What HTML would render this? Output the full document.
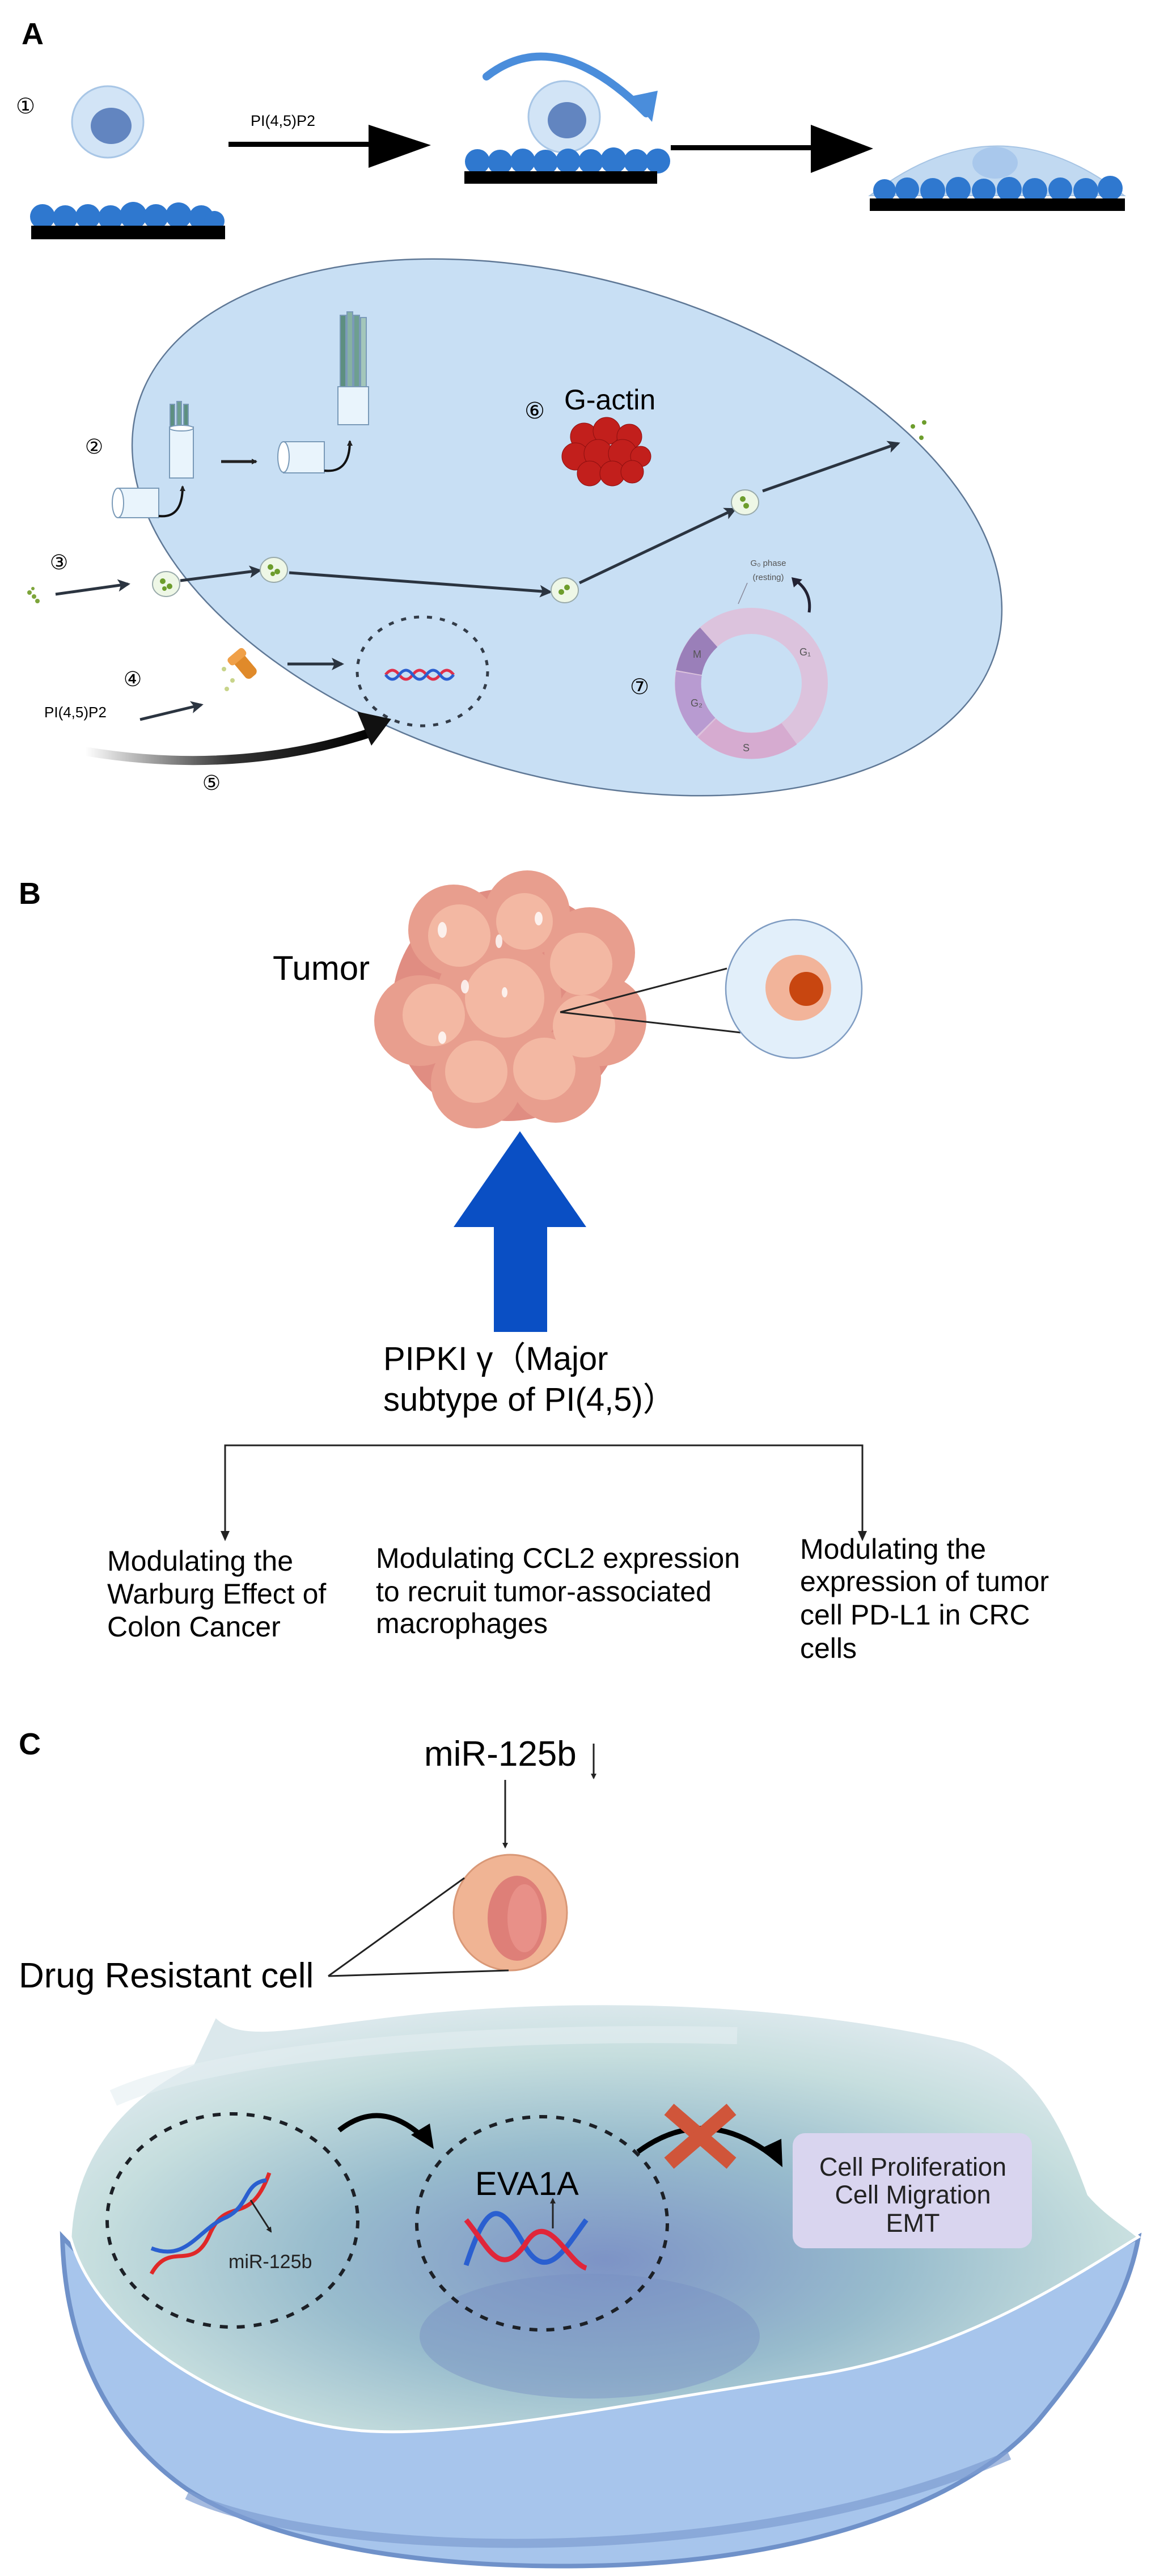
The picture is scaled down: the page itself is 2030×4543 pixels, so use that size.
<!DOCTYPE html>
<html><head><meta charset="utf-8"><style>
html,body{margin:0;padding:0;background:#fff;}
svg{display:block;}
text{font-family:"Liberation Sans","DejaVu Sans","Noto Sans CJK SC",sans-serif;}
</style></head><body>
<svg width="2030" height="4543" viewBox="0 0 2030 4543" xmlns="http://www.w3.org/2000/svg">
<defs>
<radialGradient id="cellg" cx="0.5" cy="0.6" r="0.6">
<stop offset="0" stop-color="#7d93c6"/><stop offset="0.45" stop-color="#98bccd"/><stop offset="0.8" stop-color="#c6dede"/><stop offset="1" stop-color="#dbe8ec"/>
</radialGradient>
<linearGradient id="arr5" x1="0" x2="1"><stop offset="0" stop-color="#000" stop-opacity="0"/><stop offset="0.5" stop-color="#000" stop-opacity="0.8"/><stop offset="1" stop-color="#000"/></linearGradient>
<marker id="ah" markerWidth="10" markerHeight="10" refX="8" refY="5" orient="auto" markerUnits="userSpaceOnUse"><path d="M0,0 L10,5 L0,10 Z" fill="#222"/></marker>
<marker id="ahb" markerWidth="22" markerHeight="22" refX="18" refY="11" orient="auto" markerUnits="userSpaceOnUse"><path d="M0,0 L22,11 L0,22 L5,11 Z" fill="#2b3440"/></marker>
</defs>

<!-- ===== PANEL A ===== -->
<text x="38" y="78" font-size="54" font-weight="bold">A</text>
<text x="45" y="200" font-size="38" text-anchor="middle">①</text>
<circle cx="190" cy="215" r="63" fill="#d2e4f6" stroke="#a8c6e6" stroke-width="3"/>
<ellipse cx="196" cy="222" rx="36" ry="32" fill="#6285c0"/>
<g fill="#2f78cf">
<circle cx="75" cy="382" r="22"/><circle cx="115" cy="384" r="22"/><circle cx="155" cy="382" r="22"/><circle cx="195" cy="384" r="22"/><circle cx="235" cy="380" r="24"/><circle cx="275" cy="382" r="22"/><circle cx="315" cy="380" r="23"/><circle cx="355" cy="384" r="22"/><circle cx="378" cy="390" r="18"/>
</g>
<rect x="55" y="398" width="342" height="24" fill="#000"/>
<text x="442" y="222" font-size="27">PI(4,5)P2</text>
<rect x="403" y="250" width="250" height="9" fill="#000"/>
<polygon points="650,220 760,256 650,296" fill="#000"/>
<path d="M858,135 Q980,40 1140,200" fill="none" stroke="#4a8ddb" stroke-width="14" stroke-linecap="round"/>
<polygon points="1112,170 1150,215 1160,160" fill="#4a8ddb"/>
<circle cx="995" cy="206" r="63" fill="#d2e4f6" stroke="#a8c6e6" stroke-width="3"/>
<ellipse cx="1000" cy="212" rx="34" ry="32" fill="#6285c0"/>
<g fill="#2f78cf">
<circle cx="842" cy="285" r="22"/><circle cx="882" cy="286" r="22"/><circle cx="922" cy="284" r="22"/><circle cx="962" cy="286" r="22"/><circle cx="1002" cy="284" r="22"/><circle cx="1042" cy="285" r="22"/><circle cx="1082" cy="283" r="23"/><circle cx="1122" cy="285" r="22"/><circle cx="1160" cy="284" r="22"/>
</g>
<rect x="819" y="302" width="340" height="22" fill="#000"/>
<rect x="1183" y="256" width="250" height="9" fill="#000"/>
<polygon points="1430,220 1540,262 1430,305" fill="#000"/>
<path d="M1534,345 Q1760,170 1983,345 Z" fill="#c1d9f1" stroke="#a6c4e4" stroke-width="2"/>
<ellipse cx="1755" cy="287" rx="40" ry="28" fill="#a9c8ec"/>
<g fill="#2f78cf">
<circle cx="1560" cy="336" r="20"/><circle cx="1600" cy="334" r="21"/><circle cx="1645" cy="336" r="22"/><circle cx="1690" cy="334" r="22"/><circle cx="1735" cy="336" r="21"/><circle cx="1780" cy="334" r="22"/><circle cx="1825" cy="336" r="22"/><circle cx="1870" cy="334" r="21"/><circle cx="1915" cy="336" r="22"/><circle cx="1958" cy="332" r="22"/>
</g>
<rect x="1534" y="350" width="450" height="22" fill="#000"/>

<ellipse cx="1000" cy="930" rx="787" ry="439" transform="rotate(15.7 1000 930)" fill="#c8dff4" stroke="#5f7896" stroke-width="2.5"/>

<text x="166" y="800" font-size="36" text-anchor="middle">②</text>
<g stroke="#7a9ab8" stroke-width="2">
<rect x="300" y="713" width="8" height="42" fill="#5d8f80"/><rect x="312" y="708" width="8" height="47" fill="#6e9f90"/><rect x="324" y="713" width="8" height="42" fill="#5d8f80"/>
<rect x="299" y="753" width="42" height="90" fill="#e9f4fc"/>
<ellipse cx="320" cy="755" rx="21" ry="5" fill="#fff"/>
<rect x="208" y="861" width="72" height="52" fill="#e9f4fc"/>
<ellipse cx="208" cy="887" rx="10" ry="26" fill="#fff"/>
<rect x="500" y="779" width="72" height="55" fill="#e9f4fc"/>
<ellipse cx="500" cy="806" rx="10" ry="27" fill="#fff"/>
<rect x="600" y="556" width="10" height="126" fill="#5d8f80"/><rect x="612" y="550" width="10" height="132" fill="#86b1a2"/><rect x="624" y="556" width="10" height="126" fill="#6e9f90"/><rect x="636" y="560" width="10" height="122" fill="#a3c6ba"/>
<rect x="596" y="682" width="54" height="67" fill="#e9f4fc"/>
</g>
<path d="M280,910 Q322,915 322,858" fill="none" stroke="#111" stroke-width="4" marker-end="url(#ah)"/>
<path d="M572,830 Q617,835 617,778" fill="none" stroke="#111" stroke-width="4" marker-end="url(#ah)"/>
<line x1="390" y1="814" x2="452" y2="814" stroke="#222" stroke-width="5" marker-end="url(#ah)"/>

<text x="943" y="738" font-size="40" text-anchor="middle">⑥</text>
<text x="995" y="722" font-size="50">G-actin</text>
<g fill="#c21f1c" stroke="#8d0f0f" stroke-width="1">
<circle cx="1030" cy="770" r="24"/><circle cx="1070" cy="760" r="24"/><circle cx="1110" cy="770" r="22"/><circle cx="1015" cy="805" r="24"/><circle cx="1055" cy="800" r="25"/><circle cx="1098" cy="800" r="25"/><circle cx="1130" cy="805" r="18"/><circle cx="1040" cy="835" r="22"/><circle cx="1080" cy="835" r="22"/><circle cx="1115" cy="832" r="20"/>
</g>

<text x="104" y="1004" font-size="36" text-anchor="middle">③</text>
<g fill="#7da53a"><circle cx="52" cy="1045" r="4"/><circle cx="60" cy="1052" r="4"/><circle cx="66" cy="1060" r="4"/><circle cx="58" cy="1038" r="3"/></g>
<g stroke="#2b3440" stroke-width="5" fill="none" marker-end="url(#ahb)">
<line x1="98" y1="1048" x2="226" y2="1030"/>
<line x1="318" y1="1024" x2="458" y2="1006"/>
<line x1="510" y1="1010" x2="970" y2="1044"/>
<line x1="1022" y1="1028" x2="1296" y2="898"/>
<line x1="1345" y1="866" x2="1584" y2="782"/>
<line x1="247" y1="1269" x2="355" y2="1243"/>
<line x1="507" y1="1171" x2="603" y2="1171"/>
</g>
<g fill="#eef7e6" stroke="#9aa" stroke-width="2">
<ellipse cx="293" cy="1030" rx="24" ry="22"/><ellipse cx="483" cy="1005" rx="24" ry="22"/><ellipse cx="996" cy="1041" rx="24" ry="22"/><ellipse cx="1314" cy="886" rx="24" ry="22"/>
</g>
<g fill="#6d9d2c">
<circle cx="287" cy="1025" r="5"/><circle cx="299" cy="1034" r="5"/><circle cx="290" cy="1038" r="4"/>
<circle cx="477" cy="1000" r="5"/><circle cx="489" cy="1008" r="5"/><circle cx="481" cy="1012" r="4"/>
<circle cx="990" cy="1044" r="5"/><circle cx="1000" cy="1036" r="5"/>
<circle cx="1310" cy="880" r="5"/><circle cx="1316" cy="892" r="5"/>
<circle cx="1610" cy="752" r="4"/><circle cx="1630" cy="745" r="4"/><circle cx="1625" cy="772" r="4"/>
</g>

<text x="234" y="1210" font-size="36" text-anchor="middle">④</text>
<text x="78" y="1265" font-size="26">PI(4,5)P2</text>
<g transform="rotate(-40 432 1175)">
<rect x="420" y="1148" width="24" height="50" rx="8" fill="#e08a2a"/>
<rect x="414" y="1145" width="36" height="16" rx="6" fill="#f0a048"/>
</g>
<g fill="#c8d48a"><circle cx="395" cy="1180" r="4"/><circle cx="410" cy="1200" r="4"/><circle cx="400" cy="1215" r="4"/></g>

<ellipse cx="745" cy="1184" rx="115" ry="96" fill="none" stroke="#333c48" stroke-width="5" stroke-dasharray="9 14"/>
<path d="M680,1190 q12,-16 24,0 t24,0 t24,0 t24,0 t24,0" fill="none" stroke="#e0304a" stroke-width="5"/>
<path d="M680,1190 q12,16 24,0 t24,0 t24,0 t24,0 t24,0" fill="none" stroke="#2a5fd0" stroke-width="5"/>

<path d="M150,1325 Q420,1370 660,1290" fill="none" stroke="url(#arr5)" stroke-width="16"/>
<polygon points="630,1255 690,1268 655,1315" fill="#111"/>
<text x="373" y="1393" font-size="36" text-anchor="middle">⑤</text>

<!-- 7 cell cycle -->
<text x="1128" y="1224" font-size="38" text-anchor="middle">⑦</text>
<ellipse cx="1325" cy="1205" rx="112" ry="110" fill="none" stroke="#dcc3dd" stroke-width="46"/>
<path d="M1250,1124 A112,110 0 0 0 1215,1186" fill="none" stroke="#9a7fb9" stroke-width="46"/>
<path d="M1215,1188 A112,110 0 0 0 1245,1282" fill="none" stroke="#b89bd1" stroke-width="46"/>
<path d="M1247,1284 A112,110 0 0 0 1392,1294" fill="none" stroke="#d6abd0" stroke-width="46"/>
<text x="1222" y="1160" font-size="18" fill="#555">M</text>
<text x="1410" y="1156" font-size="18" fill="#555">G₁</text>
<text x="1218" y="1246" font-size="18" fill="#555">G₂</text>
<text x="1310" y="1325" font-size="18" fill="#555">S</text>
<text x="1355" y="998" font-size="15" fill="#555" text-anchor="middle">G₀ phase</text>
<text x="1355" y="1023" font-size="15" fill="#555" text-anchor="middle">(resting)</text>
<line x1="1318" y1="1028" x2="1302" y2="1065" stroke="#889" stroke-width="1.5"/>
<path d="M1405,1025 Q1432,1045 1427,1080" fill="none" stroke="#223" stroke-width="5"/>
<polygon points="1396,1018 1415,1022 1400,1036" fill="#223"/>

<!-- ===== PANEL B ===== -->
<text x="33" y="1594" font-size="54" font-weight="bold">B</text>
<text x="481" y="1728" font-size="60">Tumor</text>
<g>
<circle cx="897" cy="1772" r="205" fill="#e08d82"/>
<g fill="#e89e8e">
<circle cx="800" cy="1640" r="80"/><circle cx="930" cy="1610" r="75"/><circle cx="1040" cy="1680" r="80"/><circle cx="1060" cy="1800" r="80"/><circle cx="980" cy="1900" r="80"/><circle cx="840" cy="1910" r="80"/><circle cx="740" cy="1800" r="80"/><circle cx="880" cy="1760" r="110"/>
</g>
<g fill="#f3b8a3">
<circle cx="810" cy="1650" r="55"/><circle cx="925" cy="1625" r="50"/><circle cx="1025" cy="1700" r="55"/><circle cx="1030" cy="1810" r="55"/><circle cx="960" cy="1885" r="55"/><circle cx="840" cy="1890" r="55"/><circle cx="765" cy="1790" r="55"/><circle cx="890" cy="1760" r="70"/>
</g>
<g fill="#fff" opacity="0.8">
<ellipse cx="780" cy="1640" rx="8" ry="14"/><ellipse cx="880" cy="1660" rx="6" ry="12"/><ellipse cx="950" cy="1620" rx="7" ry="12"/><ellipse cx="820" cy="1740" rx="7" ry="12"/><ellipse cx="780" cy="1830" rx="7" ry="11"/><ellipse cx="890" cy="1750" rx="5" ry="9"/>
</g>
</g>
<line x1="988" y1="1785" x2="1282" y2="1708" stroke="#222" stroke-width="3"/>
<line x1="988" y1="1785" x2="1306" y2="1821" stroke="#222" stroke-width="3"/>
<ellipse cx="1400" cy="1744" rx="120" ry="122" fill="#e2effa" stroke="#7f9cc2" stroke-width="2.5"/>
<circle cx="1408" cy="1742" r="58" fill="#f2b49a"/>
<circle cx="1422" cy="1744" r="30" fill="#c84610"/>
<polygon points="917,1995 1034,2164 965,2164 965,2349 871,2349 871,2164 800,2164" fill="#0a4fc4"/>
<text x="676" y="2416" font-size="58">PIPKI γ（Major</text>
<text x="676" y="2488" font-size="58">subtype of PI(4,5)）</text>
<polyline points="397,2713 397,2549 1521,2549 1521,2713" fill="none" stroke="#222" stroke-width="3"/>
<polygon points="389,2700 405,2700 397,2718" fill="#222"/>
<polygon points="1513,2700 1529,2700 1521,2718" fill="#222"/>
<g font-size="50">
<text x="189" y="2770">Modulating the</text>
<text x="189" y="2828">Warburg Effect of</text>
<text x="189" y="2886">Colon Cancer</text>
<text x="663" y="2765">Modulating CCL2 expression</text>
<text x="663" y="2824">to recruit tumor-associated</text>
<text x="663" y="2880">macrophages</text>
<text x="1411" y="2749">Modulating the</text>
<text x="1411" y="2806">expression of tumor</text>
<text x="1411" y="2865">cell PD-L1 in CRC</text>
<text x="1411" y="2924">cells</text>
</g>

<!-- ===== PANEL C ===== -->
<text x="33" y="3094" font-size="54" font-weight="bold">C</text>
<text x="748" y="3114" font-size="62">miR-125b</text>
<line x1="1047" y1="3075" x2="1047" y2="3136" stroke="#222" stroke-width="3" marker-end="url(#ah)"/>
<line x1="891" y1="3139" x2="891" y2="3258" stroke="#222" stroke-width="3" marker-end="url(#ah)"/>
<ellipse cx="900" cy="3373" rx="100" ry="102" fill="#f0b494" stroke="#d99877" stroke-width="3"/>
<ellipse cx="912" cy="3383" rx="52" ry="75" fill="#de7f78"/>
<ellipse cx="925" cy="3383" rx="30" ry="60" fill="#e89088"/>
<line x1="579" y1="3485" x2="819" y2="3312" stroke="#222" stroke-width="3"/>
<line x1="579" y1="3485" x2="897" y2="3475" stroke="#222" stroke-width="3"/>
<text x="33" y="3505" font-size="62">Drug Resistant cell</text>

<path d="M110,3945 C115,4150 200,4300 330,4390 C500,4500 800,4530 1040,4525 C1400,4520 1700,4420 1830,4270 C1930,4150 1990,4050 2008,3945 C1800,4060 1500,4190 1100,4230 C700,4270 350,4200 110,3945 Z" fill="#a7c5ec" stroke="#6f91c9" stroke-width="8"/>
<path d="M330,4400 C560,4510 1300,4540 1780,4330" fill="none" stroke="#7d9dd2" stroke-width="16" opacity="0.7"/>
<path d="M124,3945 C130,3800 220,3700 340,3640 L380,3555 C420,3600 520,3575 650,3560 C950,3520 1350,3520 1700,3600 C1830,3640 1880,3760 1920,3870 C1950,3905 1985,3925 2008,3945 C1900,4010 1700,4150 1430,4190 C1100,4240 820,4300 640,4287 C420,4270 170,4120 124,3945 Z" fill="url(#cellg)" stroke="#ffffff" stroke-width="5"/>
<ellipse cx="1040" cy="4120" rx="300" ry="110" fill="#7890c4" opacity="0.45"/>
<path d="M200,3700 C400,3610 900,3580 1300,3590" fill="none" stroke="#e4eef2" stroke-width="30" opacity="0.6"/>
<ellipse cx="410" cy="3916" rx="221" ry="188" fill="none" stroke="#1c2026" stroke-width="6" stroke-dasharray="14 16"/>
<ellipse cx="956" cy="3921" rx="221" ry="188" fill="none" stroke="#1c2026" stroke-width="6" stroke-dasharray="14 16"/>
<path d="M267,4010 C300,3950 340,4010 370,3940 C400,3870 440,3930 475,3832" fill="none" stroke="#e02828" stroke-width="7"/>
<path d="M267,3965 C330,3990 350,3930 400,3910 C440,3890 430,3850 470,3845" fill="none" stroke="#2a5fd0" stroke-width="7"/>
<line x1="442" y1="3880" x2="478" y2="3936" stroke="#222" stroke-width="3" marker-end="url(#ah)"/>
<text x="403" y="4000" font-size="34" fill="#222">miR-125b</text>
<text x="838" y="3871" font-size="58">EVA1A</text>
<line x1="975" y1="3930" x2="975" y2="3878" stroke="#222" stroke-width="3" marker-end="url(#ah)"/>
<path d="M822,3995 C860,3880 880,3880 925,3960 C965,4030 1000,3960 1034,3915" fill="none" stroke="#2a5fd0" stroke-width="9"/>
<path d="M822,3915 C860,3960 880,4020 925,3960 C965,3890 1000,3990 1034,4000" fill="none" stroke="#e0263a" stroke-width="9"/>
<path d="M598,3757 Q670,3700 745,3768" fill="none" stroke="#000" stroke-width="9"/>
<polygon points="725,3765 765,3790 758,3745" fill="#000"/>
<path d="M1125,3795 Q1240,3710 1360,3800" fill="none" stroke="#000" stroke-width="9"/>
<polygon points="1340,3790 1380,3822 1378,3772" fill="#000"/>
<g stroke="#d0553a" stroke-width="26" stroke-linecap="butt">
<line x1="1180" y1="3720" x2="1290" y2="3815"/><line x1="1290" y1="3720" x2="1180" y2="3815"/>
</g>
<rect x="1398" y="3762" width="422" height="203" rx="22" fill="#d9d5ef"/>
<g font-size="45" text-anchor="middle" fill="#222">
<text x="1610" y="3837">Cell Proliferation</text>
<text x="1610" y="3886">Cell Migration</text>
<text x="1610" y="3936">EMT</text>
</g>
</svg>
</body></html>
